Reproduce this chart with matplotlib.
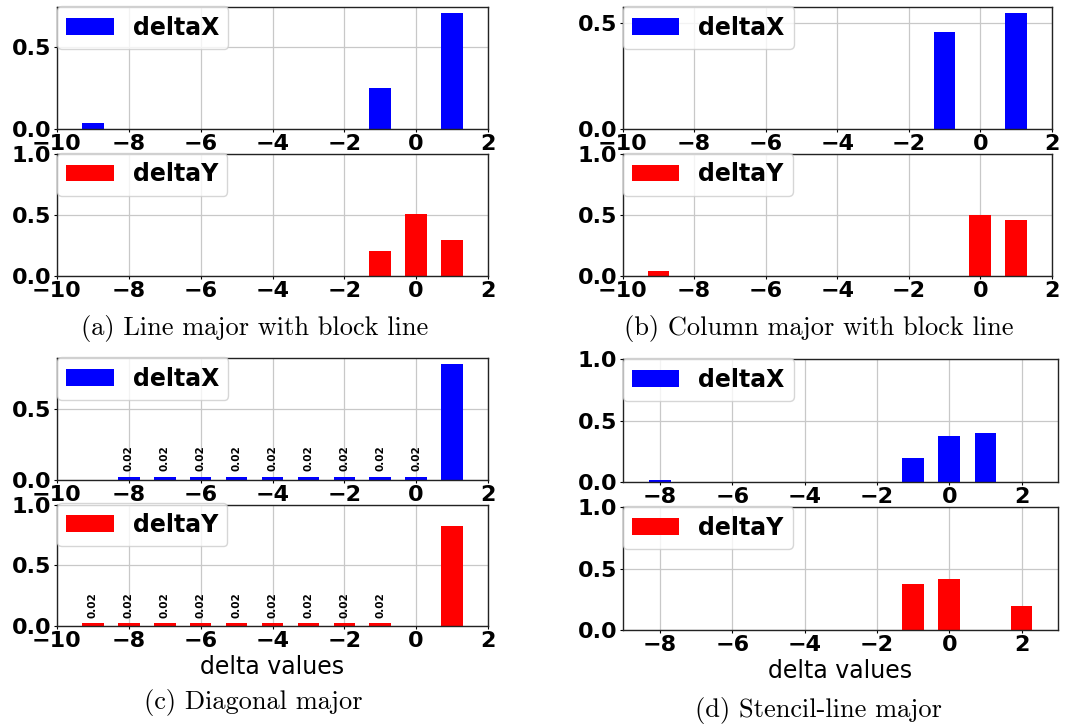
import matplotlib
matplotlib.use("Agg")
import matplotlib.pyplot as plt

# ---------------- data ----------------
a_dx_pos = [-9, -1, 1]
a_dx_val = [0.04, 0.25, 0.71]
a_dy_pos = [-1, 0, 1]
a_dy_val = [0.20, 0.51, 0.29]

b_dx_pos = [-1, 1]
b_dx_val = [0.455, 0.545]
b_dy_pos = [-9, 0, 1]
b_dy_val = [0.04, 0.50, 0.46]

c_dx_pos = [-8, -7, -6, -5, -4, -3, -2, -1, 0, 1]
c_dx_val = [0.02, 0.02, 0.02, 0.02, 0.02, 0.02, 0.02, 0.02, 0.02, 0.82]
c_dy_pos = [-9, -8, -7, -6, -5, -4, -3, -2, -1, 1]
c_dy_val = [0.02, 0.02, 0.02, 0.02, 0.02, 0.02, 0.02, 0.02, 0.02, 0.82]

d_dx_pos = [-8, -1, 0, 1]
d_dx_val = [0.02, 0.20, 0.38, 0.40]
d_dy_pos = [-1, 0, 2]
d_dy_val = [0.38, 0.42, 0.20]

captions = ["(a) Line major with block line", "(b) Column major with block line",
            "(c) Diagonal major", "(d) Stencil-line major"]
series_names = ["deltaX", "deltaY"]
xlabel_text = "delta values"

W, H = 1066, 727
fig = plt.figure(figsize=(W / 100, H / 100), dpi=100)


def px_axes(left, right, top, bottom):
    return fig.add_axes([left / W, 1 - bottom / H, (right - left) / W, (bottom - top) / H])


def draw(ax, pos, val, color, name, xlim, xticks, ylim1=False, labels=False, xlabel=None):
    ax.set_axisbelow(True)
    bars = ax.bar(pos, val, width=0.6, color=color, label=name)
    if labels:
        lbl = ["%.2f" % v if v < 0.1 else "" for v in val]
        ax.bar_label(bars, labels=lbl, rotation=90, padding=4,
                     fontsize=7.5, fontweight="bold")
    ax.set_xlim(*xlim)
    ax.set_xticks(xticks)
    ax.set_yticks([0.0, 0.5, 1.0])
    if ylim1:
        ax.set_ylim(0, 1.0)
    else:
        ax.set_ylim(0, max(val) * 1.05)
    ax.grid(True, color="#c8c8c8", linewidth=0.9)
    for s in ax.spines.values():
        s.set_linewidth(1.0)
        s.set_color("#222222")
    ax.tick_params(labelsize=16, length=2, width=0.8)
    ax.tick_params(axis="x", pad=1.5)
    ax.tick_params(axis="y", pad=2)
    for t in ax.get_xticklabels() + ax.get_yticklabels():
        t.set_fontweight("bold")
    ax.legend(loc="upper left", bbox_to_anchor=(0, 1.01), borderaxespad=0,
              prop={"weight": "bold", "size": 17})
    if xlabel:
        ax.set_xlabel(xlabel, fontsize=17, labelpad=3)


xt1 = [-10, -8, -6, -4, -2, 0, 2]
xt2 = [-8, -6, -4, -2, 0, 2]

# (a)
ax = px_axes(57, 488, 7.3, 129.3)
draw(ax, a_dx_pos, a_dx_val, "blue", series_names[0], (-10, 2), xt1)
ax = px_axes(57, 488, 154, 275.7)
draw(ax, a_dy_pos, a_dy_val, "red", series_names[1], (-10, 2), xt1, ylim1=True)

# (b)
ax = px_axes(622.7, 1051.7, 7.3, 129.3)
draw(ax, b_dx_pos, b_dx_val, "blue", series_names[0], (-10, 2), xt1)
ax = px_axes(622.7, 1051.7, 154, 275.7)
draw(ax, b_dy_pos, b_dy_val, "red", series_names[1], (-10, 2), xt1, ylim1=True)

# (c)
ax = px_axes(57, 488, 358.3, 479.7)
draw(ax, c_dx_pos, c_dx_val, "blue", series_names[0], (-10, 2), xt1, labels=True)
ax = px_axes(57, 488, 504.7, 625.7)
draw(ax, c_dy_pos, c_dy_val, "red", series_names[1], (-10, 2), xt1, ylim1=True,
     labels=True, xlabel=xlabel_text)

# (d)
ax = px_axes(622.7, 1057.7, 359.3, 482.3)
draw(ax, d_dx_pos, d_dx_val, "blue", series_names[0], (-9.03, 3.0), xt2, ylim1=True)
ax = px_axes(622.7, 1057.7, 507.3, 630.3)
draw(ax, d_dy_pos, d_dy_val, "red", series_names[1], (-9.03, 3.0), xt2, ylim1=True,
     xlabel=xlabel_text)

cap_pos = [(255, 328), (819, 328), (253, 703), (818, 710)]
for (cx, cy), txt in zip(cap_pos, captions):
    fig.text(cx / W, 1 - cy / H, txt, ha="center", va="center",
             fontsize=19, family="cmr10")

fig.savefig("out.png", dpi=100)
